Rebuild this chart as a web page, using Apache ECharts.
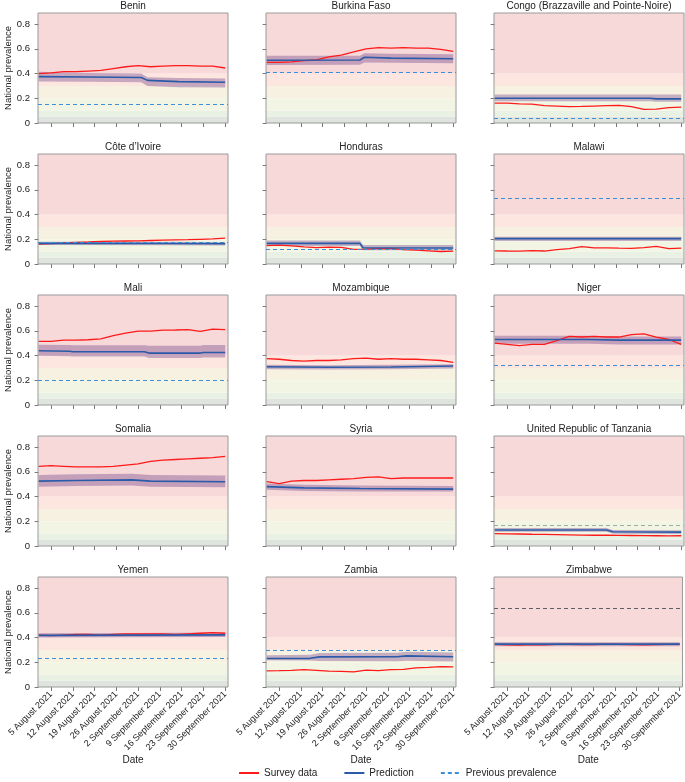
<!DOCTYPE html>
<html>
<head>
<meta charset="utf-8">
<script src="https://cdn.jsdelivr.net/npm/echarts@6.0.0/dist/echarts.min.js"></script>
<style>
html, body { margin: 0; padding: 0; background: #fff; }
#container { width: 685px; height: 782px; }
</style>
</head>
<body>
<div id="container"></div>
<script>
// panel order, left to right, top to bottom
var countries = ['Benin', 'Burkina Faso', 'Congo (Brazzaville and Pointe-Noire)',
    'Côte d\u2019Ivoire', 'Honduras', 'Malawi',
    'Mali', 'Mozambique', 'Niger',
    'Somalia', 'Syria', 'United Republic of Tanzania',
    'Yemen', 'Zambia', 'Zimbabwe'];

// days since 1 August 2021
var surveyDays = [0, 4, 8, 12, 16, 20, 24, 28, 32, 36, 40, 44, 48, 52, 56, 60];
var survey = [
    [0.40, 0.405, 0.415, 0.415, 0.42, 0.425, 0.44, 0.455, 0.465, 0.455, 0.46, 0.465, 0.465, 0.46, 0.46, 0.445],
    [0.49, 0.49, 0.495, 0.505, 0.51, 0.535, 0.55, 0.575, 0.60, 0.61, 0.605, 0.61, 0.605, 0.605, 0.595, 0.58],
    [0.16, 0.16, 0.155, 0.152, 0.14, 0.136, 0.132, 0.134, 0.137, 0.14, 0.143, 0.133, 0.11, 0.112, 0.124, 0.129],
    [0.16, 0.165, 0.17, 0.175, 0.178, 0.182, 0.185, 0.186, 0.187, 0.19, 0.193, 0.195, 0.197, 0.2, 0.203, 0.21],
    [0.148, 0.152, 0.146, 0.138, 0.132, 0.136, 0.135, 0.118, 0.12, 0.124, 0.126, 0.117, 0.112, 0.107, 0.101, 0.104],
    [0.107, 0.105, 0.104, 0.108, 0.105, 0.117, 0.125, 0.14, 0.13, 0.13, 0.128, 0.127, 0.132, 0.142, 0.125, 0.128],
    [0.515, 0.515, 0.525, 0.525, 0.528, 0.535, 0.562, 0.582, 0.598, 0.597, 0.605, 0.607, 0.61, 0.595, 0.614, 0.61],
    [0.375, 0.37, 0.36, 0.355, 0.36, 0.36, 0.365, 0.375, 0.38, 0.37, 0.375, 0.37, 0.37, 0.365, 0.36, 0.345],
    [0.50, 0.49, 0.48, 0.49, 0.49, 0.52, 0.555, 0.55, 0.555, 0.55, 0.55, 0.57, 0.575, 0.55, 0.53, 0.49],
    [0.645, 0.65, 0.645, 0.64, 0.64, 0.64, 0.645, 0.655, 0.665, 0.685, 0.695, 0.70, 0.705, 0.71, 0.715, 0.725],
    [0.52, 0.505, 0.525, 0.53, 0.53, 0.535, 0.54, 0.545, 0.555, 0.56, 0.545, 0.55, 0.55, 0.55, 0.55, 0.55],
    [0.10, 0.098, 0.097, 0.095, 0.094, 0.092, 0.09, 0.088, 0.087, 0.087, 0.086, 0.085, 0.084, 0.083, 0.082, 0.083],
    [0.42, 0.415, 0.42, 0.425, 0.425, 0.42, 0.425, 0.43, 0.43, 0.43, 0.43, 0.425, 0.43, 0.435, 0.44, 0.435],
    [0.13, 0.132, 0.135, 0.14, 0.135, 0.128, 0.126, 0.122, 0.136, 0.132, 0.14, 0.143, 0.155, 0.158, 0.165, 0.163],
    [0.345, 0.342, 0.34, 0.343, 0.342, 0.345, 0.346, 0.344, 0.343, 0.347, 0.345, 0.343, 0.342, 0.344, 0.345, 0.346]
];

// [day, prediction, lower, upper]
var prediction = [
    [[0, 0.375, 0.335, 0.415], [16, 0.372, 0.333, 0.405], [33, 0.368, 0.33, 0.40], [35, 0.345, 0.30, 0.37], [45, 0.335, 0.29, 0.365], [60, 0.33, 0.287, 0.36]],
    [[0, 0.508, 0.47, 0.545], [30, 0.51, 0.472, 0.545], [31.5, 0.532, 0.49, 0.565], [40, 0.525, 0.487, 0.56], [60, 0.52, 0.484, 0.557]],
    [[0, 0.20, 0.175, 0.23], [50, 0.20, 0.175, 0.23], [52, 0.195, 0.172, 0.23], [60, 0.195, 0.172, 0.23]],
    [[0, 0.167, 0.153, 0.18], [40, 0.166, 0.152, 0.18], [60, 0.164, 0.15, 0.178]],
    [[0, 0.167, 0.145, 0.19], [30, 0.167, 0.145, 0.19], [31, 0.131, 0.112, 0.153], [60, 0.13, 0.112, 0.153]],
    [[0, 0.205, 0.186, 0.22], [60, 0.205, 0.186, 0.22]],
    [[0, 0.439, 0.398, 0.488], [10, 0.435, 0.395, 0.485], [11, 0.431, 0.393, 0.484], [34, 0.431, 0.393, 0.484], [35.5, 0.42, 0.38, 0.48], [52, 0.42, 0.38, 0.48], [53, 0.425, 0.385, 0.485], [60, 0.425, 0.385, 0.485]],
    [[0, 0.31, 0.29, 0.325], [20, 0.305, 0.288, 0.322], [40, 0.308, 0.29, 0.325], [60, 0.315, 0.295, 0.33]],
    [[0, 0.53, 0.495, 0.56], [30, 0.53, 0.495, 0.56], [40, 0.525, 0.49, 0.555], [60, 0.525, 0.49, 0.555]],
    [[0, 0.525, 0.48, 0.575], [12, 0.53, 0.485, 0.58], [30, 0.535, 0.49, 0.585], [36, 0.525, 0.48, 0.575], [60, 0.52, 0.475, 0.57]],
    [[0, 0.48, 0.455, 0.505], [12, 0.47, 0.445, 0.495], [30, 0.465, 0.44, 0.49], [60, 0.46, 0.44, 0.485]],
    [[0, 0.13, 0.115, 0.145], [36, 0.13, 0.115, 0.145], [38, 0.115, 0.10, 0.13], [60, 0.112, 0.098, 0.127]],
    [[0, 0.418, 0.40, 0.435], [30, 0.42, 0.402, 0.437], [60, 0.422, 0.405, 0.44]],
    [[0, 0.23, 0.217, 0.257], [14, 0.232, 0.215, 0.26], [17, 0.244, 0.21, 0.275], [42, 0.245, 0.208, 0.278], [45, 0.252, 0.212, 0.285], [60, 0.245, 0.207, 0.28]],
    [[0, 0.347, 0.33, 0.362], [60, 0.347, 0.33, 0.362]]
];

var previous = [0.15, 0.41, 0.038, 0.18, 0.12, 0.53, 0.20, null, 0.32, null, null, 0.17, 0.225, 0.305, 0.64];

var tickDays = [4, 11, 18, 25, 32, 39, 46, 53, 60];
var tickLabels = ['5 August 2021', '12 August 2021', '19 August 2021', '26 August 2021',
    '2 September 2021', '9 September 2021', '16 September 2021', '23 September 2021', '30 September 2021'];
var yTicks = [0, 0.2, 0.4, 0.6, 0.8];

// background prevalence bands
var bandEdges = [0, 0.05, 0.1, 0.2, 0.3, 0.4, 0.89];
var bandColors = ['#dfe4df', '#e9f1e4', '#f3f5e4', '#f7f1e2', '#fce6df', '#f7d9da'];

var prevColors = {11: '#9aaea6', 14: '#5d5d66'};

window.onload = function () {
    var myChart = echarts.init(document.getElementById('container'));
    var colLeft = [38, 266, 494];
    var font = '"Liberation Sans", Arial, sans-serif';

    var grids = [], xAxes = [], yAxes = [], titles = [], series = [];

    // one rect per prevalence band, full plot width
    function renderBand(params, api) {
        var cs = params.coordSys;
        var y0 = api.coord([0, api.value(0)])[1];
        var y1 = api.coord([0, api.value(1)])[1];
        return {
            type: 'rect',
            shape: {x: cs.x, y: y1, width: cs.width, height: y0 - y1},
            style: {fill: bandColors[params.dataIndex]}
        };
    }

    function makeCiRenderer(pred) {
        return function (params, api) {
            var pts = [];
            pred.forEach(function (p) { pts.push(api.coord([p[0], p[3]])); });
            pred.slice().reverse().forEach(function (p) { pts.push(api.coord([p[0], p[2]])); });
            return {
                type: 'polygon',
                shape: {points: pts},
                style: {fill: 'rgba(105, 55, 130, 0.36)'}
            };
        };
    }

    for (var i = 0; i < countries.length; i++) {
        var r = Math.floor(i / 3), c = i % 3;
        var top = 13 + r * 141;
        grids.push({
            left: colLeft[c], top: top, width: 190, height: 110,
            show: true, borderColor: '#9a9a9a', borderWidth: 1,
            backgroundColor: 'transparent', z: 5
        });
        titles.push({
            text: countries[i], left: colLeft[c] + 95, top: top - 12,
            textAlign: 'center', padding: 0,
            textStyle: {fontSize: 10, fontWeight: 'normal', color: '#222', fontFamily: font}
        });
        xAxes.push({
            gridIndex: i, type: 'value', min: -0.2, max: 60.9,
            axisLine: {show: false}, splitLine: {show: false},
            axisTick: {show: true, customValues: tickDays, length: 4, lineStyle: {color: '#777'}},
            axisLabel: {
                show: r === 4, customValues: tickDays, rotate: 45, margin: 6,
                fontSize: 9, color: '#222', fontFamily: font,
                formatter: function (v) { return tickLabels[tickDays.indexOf(Math.round(v))]; }
            },
            name: r === 4 ? 'Date' : '', nameLocation: 'middle', nameGap: 64,
            nameTextStyle: {fontSize: 10, color: '#222', fontFamily: font}
        });
        yAxes.push({
            gridIndex: i, type: 'value', min: 0, max: 0.89,
            axisLine: {show: false}, splitLine: {show: false},
            axisTick: {show: true, customValues: yTicks, length: 4, lineStyle: {color: '#777'}},
            axisLabel: {
                show: c === 0, customValues: yTicks, fontSize: 9.5, color: '#222', fontFamily: font,
                formatter: function (v) { return v === 0 ? '0' : v.toFixed(1); }
            },
            name: c === 0 ? 'National prevalence' : '', nameLocation: 'middle', nameGap: 20,
            nameTextStyle: {fontSize: 9.5, color: '#222', fontFamily: font}
        });

        var pred = prediction[i];
        series.push({
            name: 'bands', type: 'custom', xAxisIndex: i, yAxisIndex: i,
            silent: true, z: 0, renderItem: renderBand,
            data: bandColors.map(function (col, k) { return [bandEdges[k], bandEdges[k + 1]]; })
        });
        series.push({
            name: 'ci', type: 'custom', xAxisIndex: i, yAxisIndex: i,
            silent: true, z: 1, renderItem: makeCiRenderer(pred),
            data: [[pred[0][0], pred[0][2]]]
        });
        series.push({
            name: 'Survey data', type: 'line', xAxisIndex: i, yAxisIndex: i, z: 3,
            symbol: 'none', color: '#ff1a1a', lineStyle: {width: 1.3},
            data: surveyDays.map(function (d, k) { return [d, survey[i][k]]; })
        });
        series.push({
            name: 'Prediction', type: 'line', xAxisIndex: i, yAxisIndex: i, z: 4,
            symbol: 'none', color: '#2b5ba8', lineStyle: {width: 1.6},
            data: pred.map(function (p) { return [p[0], p[1]]; })
        });
        if (previous[i] !== null) {
            var pc = prevColors[i] || '#3d8fd6';
            series.push({
                name: 'Previous prevalence', type: 'line', xAxisIndex: i, yAxisIndex: i, z: 4,
                symbol: 'none', color: pc, lineStyle: {width: 1.2, type: [4, 3]},
                data: [],
                markLine: {
                    symbol: 'none', silent: true, label: {show: false},
                    lineStyle: {color: pc, width: 1.2, type: [4, 3]},
                    data: [{yAxis: previous[i]}]
                }
            });
        }
    }

    var option = {
        animation: false,
        textStyle: {fontFamily: font},
        title: titles,
        grid: grids,
        xAxis: xAxes,
        yAxis: yAxes,
        legend: {
            data: ['Survey data', 'Prediction', 'Previous prevalence'],
            left: 233, top: 763, itemWidth: 20, itemHeight: 10, itemGap: 26,
            itemStyle: {color: 'transparent', borderColor: 'transparent', borderWidth: 0, opacity: 0},
            textStyle: {fontSize: 10, color: '#222', fontFamily: font}
        },
        series: series
    };
    myChart.setOption(option);
};
</script>
</body>
</html>
